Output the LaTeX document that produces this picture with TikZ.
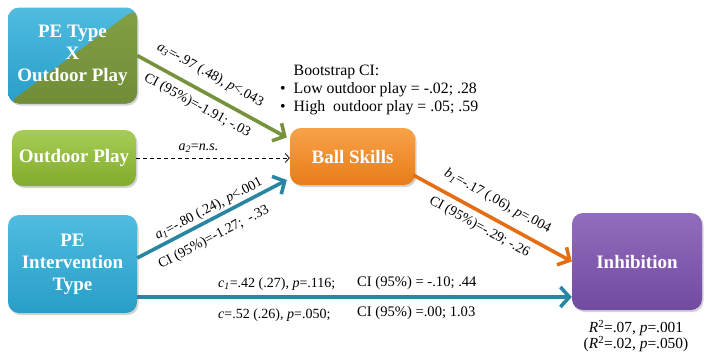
\documentclass[tikz,border=0pt]{standalone}
\usepackage{fontspec}
\setmainfont{Liberation Serif}
\usetikzlibrary{arrows.meta,shadows,calc}
\definecolor{cyanbox}{RGB}{40,158,200}
\definecolor{cyantop}{RGB}{80,188,224}
\definecolor{olivebox}{RGB}{112,140,54}
\definecolor{olivetop}{RGB}{132,160,70}
\definecolor{greenbox}{RGB}{130,172,44}
\definecolor{greentop}{RGB}{166,204,86}
\definecolor{orangebox}{RGB}{232,124,26}
\definecolor{orangetop}{RGB}{248,162,72}
\definecolor{purplebox}{RGB}{114,74,160}
\definecolor{purpletop}{RGB}{146,108,190}
\definecolor{greenarrow}{RGB}{118,146,60}
\definecolor{tealarrow}{RGB}{40,134,162}
\definecolor{orangearrow}{RGB}{228,110,20}
\newcommand\itx[1]{\textit{#1}}
\begin{document}
\begin{tikzpicture}[x=1pt,y=-1pt,
  boxnode/.style={rectangle, rounded corners=11pt, inner sep=2pt, align=center,
    text=white, font=\fontsize{19}{22}\selectfont\bfseries,
    drop shadow={shadow xshift=1.5pt, shadow yshift=-2pt, opacity=.35}},
  lbl/.style={font=\fontsize{14}{16}\selectfont, inner sep=0pt},
  conn/.style={line width=3.6pt, -{Straight Barb[length=9pt,width=20pt]}},
  dconn/.style={line width=0.8pt, dash pattern=on 4pt off 3pt, -{Straight Barb[length=4pt,width=9pt]}}
]
\useasboundingbox (0,0) rectangle (708,356);

% boxes
\node[boxnode, minimum width=129pt, minimum height=96pt, top color=cyantop, bottom color=cyanbox,
  path picture={\shade[top color=olivetop, bottom color=olivebox]
    (path picture bounding box.south west) -- (path picture bounding box.north east)
    -- (path picture bounding box.south east) -- cycle;}]
  (ptx) at (72.5,55.5) {PE Type\\X\\Outdoor Play};
\node[boxnode, minimum width=124pt, minimum height=56pt, top color=greentop, bottom color=greenbox]
  (op) at (74,158) {Outdoor Play};
\node[boxnode, minimum width=129pt, minimum height=98pt, top color=cyantop, bottom color=cyanbox]
  (pe) at (72.5,264) {PE\\Intervention\\Type};
\node[boxnode, minimum width=125pt, minimum height=57pt, top color=orangetop, bottom color=orangebox]
  (bs) at (352.5,156.5) {Ball Skills};
\node[boxnode, minimum width=130pt, minimum height=97pt, top color=purpletop, bottom color=purplebox]
  (inh) at (637,261.5) {Inhibition};

% bootstrap note
\node[lbl, anchor=north west, font=\fontsize{15.8}{17.8}\selectfont] (boot) at (280,63)
  {\begin{tabular}{@{}l@{\hspace{8pt}}l@{}}
     & Bootstrap CI:\\
   • & Low outdoor play = -.02; .28\\
   • & High\ \ outdoor play = .05; .59
   \end{tabular}};

% connectors
\draw[conn, greenarrow] (ptx.east) -- ([shift={(-3,-19)}]bs.west)
  node[lbl, sloped, pos=0.43, above=10pt, text=black] (la3) {\itx{a}\textsubscript{\itx{3}}=-.97 (.48), \itx{p}<.043}
  node[lbl, sloped, pos=0.45, below=7pt, text=black] (la3ci) {CI (95\%)=-1.91; -.03};

\draw[dconn] (op.east) -- (op.east -| bs.west)
  node[lbl, pos=0.405, above=5pt] (la2) {\itx{a}\textsubscript{\itx{2}}=\itx{n.s.}};

\draw[conn, tealarrow] ([yshift=6pt]pe.east) -- ([shift={(-3,23.5)}]bs.west)
  node[lbl, sloped, pos=0.51, above=2pt, text=black] (la1) {\itx{a}\textsubscript{\itx{1}}=-.80 (.24), \itx{p}<.001}
  node[lbl, sloped, pos=0.46, below=9pt, text=black] (la1ci) {CI (95\%)=-1.27;\ \ -.33};

\draw[conn, orangearrow] ([shift={(-2,18.5)}]bs.east) -- (inh.west)
  node[lbl, sloped, pos=0.48, above=9pt, text=black] (lb1) {\itx{b}\textsubscript{\itx{1}}=-.17 (.06), \itx{p}=.004}
  node[lbl, sloped, pos=0.46, below=6pt, text=black] (lb1ci) {CI (95\%)=-.29; -.26};

\coordinate (hstart) at ([yshift=-33pt]pe.east);
\draw[conn, tealarrow] (hstart) -- (hstart -| inh.west);

\node[lbl, anchor=west] (lc1) at (218,284) {\itx{c}\textsubscript{\itx{1}}=.42 (.27), \itx{p}=.116;};
\node[lbl, anchor=west, font=\fontsize{14.6}{16}\selectfont] (lc1ci) at (357,283) {CI (95\%) = -.10; .44};
\node[lbl, anchor=west] (lc) at (218,315) {\itx{c}=.52 (.26), \itx{p}=.050;};
\node[lbl, anchor=west, font=\fontsize{14.6}{16}\selectfont] (lcci) at (357,313) {CI (95\%) =.00; 1.03};

\node[lbl, align=center, font=\fontsize{15.4}{16.5}\selectfont] (r2) at (636,336)
  {\itx{R}\textsuperscript{2}=.07, \itx{p}=.001\\(\itx{R}\textsuperscript{2}=.02, \itx{p}=.050)};
\end{tikzpicture}
\end{document}
